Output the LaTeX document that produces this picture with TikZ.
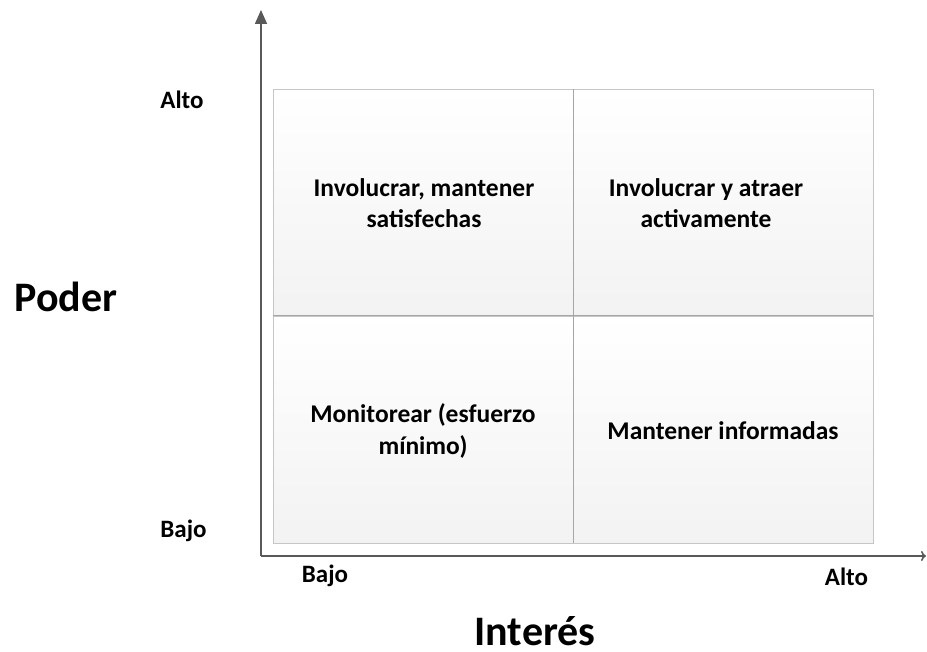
\documentclass[tikz,border=0pt]{standalone}
\usepackage{fontspec}
\setmainfont{Carlito}
\usetikzlibrary{arrows.meta}
\tikzset{
  cell/.style={draw=gray!45, line width=0.8pt, top color=white, bottom color=gray!10, shading angle=0},
  celltext/.style={font=\bfseries\fontsize{25.5}{31.5}\selectfont, align=center, text=black},
  ticklabel/.style={font=\bfseries\fontsize{25}{28}\selectfont, text=black, anchor=base, inner sep=0pt},
  axislabel/.style={font=\bfseries\fontsize{42}{48}\selectfont, text=black, anchor=base, inner sep=0pt},
  axisline/.style={draw=black!65, line width=1.6pt}
}
\begin{document}
\begin{tikzpicture}[x=1pt,y=-1pt]
\useasboundingbox (0,0) rectangle (927,652);
% cells
\path[cell] (273,89) rectangle (573,316);
\path[cell] (573,89) rectangle (873,316);
\path[cell] (273,316) rectangle (573,543);
\path[cell] (573,316) rectangle (873,543);
\draw[gray!70, line width=1pt] (573,89) -- (573,543);
\draw[gray!70, line width=1pt] (273,316) -- (873,316);
% quadrant texts
\node[celltext] (q1) at (424,203) {Involucrar, mantener\\satisfechas};
\node[celltext] (q2) at (706,203) {Involucrar y atraer\\activamente};
\node[celltext] (q3) at (423,431) {Monitorear (esfuerzo\\mínimo)};
\node[celltext] (q4) at (723,431) {Mantener informadas};
% axes
\coordinate (o) at (261,556);
\coordinate (ytop) at (261,10);
\coordinate (xend) at (926,556);
\draw[axisline, -{Triangle[length=14pt,width=12pt]}] (o) -- (ytop);
\draw[axisline, -{To[length=5pt,width=10pt]}] (o) -- (xend);
% tick labels
\node[ticklabel] (yalto) at (182,109) {Alto};
\node[ticklabel] (ybajo) at (183.5,537) {Bajo};
\node[ticklabel] (xbajo) at (325,582) {Bajo};
\node[ticklabel] (xalto) at (846.5,585) {Alto};
% axis titles
\node[axislabel] (poder) at (66,312) {Poder};
\node[axislabel] (interes) at (535,645) {Interés};
\end{tikzpicture}
\end{document}
